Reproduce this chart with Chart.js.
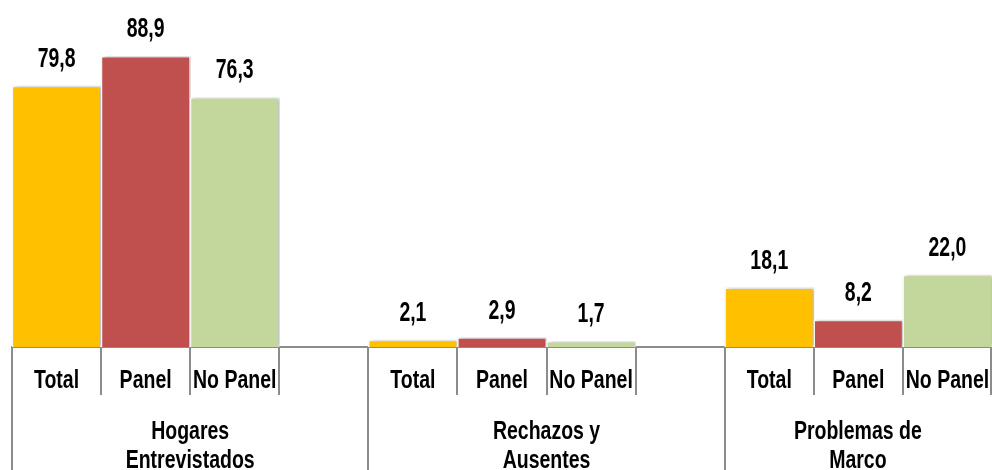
<!DOCTYPE html>
<html>
<head>
<meta charset="utf-8">
<script src="https://cdn.jsdelivr.net/npm/chart.js@4.4.1/dist/chart.umd.min.js"></script>
<style>
  html, body { margin: 0; padding: 0; background: #fff; }
  #wrap { width: 992px; height: 470px; position: relative; }
</style>
</head>
<body>
<div id="wrap"><canvas id="encuestaChart"></canvas></div>
<script>
// series inside each group
const series = ['Total', 'Panel', 'No Panel'];
const seriesColors = ['#FFC000', '#C0504D', '#C3D69B'];

// group labels (two lines each)
const groups = [
  ['Hogares', 'Entrevistados'],
  ['Rechazos y', 'Ausentes'],
  ['Problemas de', 'Marco']
];

// percentages per group, in series order
const hogares = [79.8, 88.9, 76.3];
const rechazos = [2.1, 2.9, 1.7];
const marco = [18.1, 8.2, 22.0];

const FONT = '"Liberation Sans", Arial, sans-serif';
const AXIS_GRAY = '#8c8c8c';

// flatten groups into one category axis, with an empty slot between groups
const groupValues = [hogares, rechazos, marco];
const labels = [];
const values = [];
const colors = [];
const groupStarts = [];
groupValues.forEach((vals, g) => {
  if (g > 0) { labels.push(''); values.push(null); colors.push('transparent'); }
  groupStarts.push(labels.length);
  vals.forEach((v, i) => {
    labels.push(series[i]);
    values.push(v);
    colors.push(seriesColors[i]);
  });
});

const fmt = v => v.toFixed(1).replace('.', ',');

// bold condensed text: regular face squeezed horizontally
function narrowText(ctx, text, x, y, size, sx) {
  ctx.save();
  ctx.translate(x, y);
  ctx.scale(sx, 1);
  ctx.font = 'bold ' + size + 'px ' + FONT;
  ctx.fillStyle = '#000';
  ctx.textAlign = 'center';
  ctx.textBaseline = 'alphabetic';
  ctx.fillText(text, 0, 0);
  ctx.restore();
}

// soft shadow under the bars, then value labels on top
const barLabels = {
  id: 'barLabels',
  beforeDatasetsDraw(chart) {
    const ctx = chart.ctx;
    ctx.save();
    ctx.shadowColor = 'rgba(0,0,0,0.3)';
    ctx.shadowBlur = 4;
    ctx.shadowOffsetX = 2;
    ctx.shadowOffsetY = 0;
  },
  afterDatasetsDraw(chart) {
    const ctx = chart.ctx;
    ctx.restore();
    chart.getDatasetMeta(0).data.forEach((bar, i) => {
      const v = values[i];
      if (v == null) return;
      narrowText(ctx, fmt(v), bar.x, bar.y - 19, 27, 0.72);
    });
  }
};

// tick separators, category labels and two-line group labels under the axis
const groupAxis = {
  id: 'groupAxis',
  afterDraw(chart) {
    const x = chart.scales.x;
    const ctx = chart.ctx;
    const base = chart.chartArea.bottom;
    const n = labels.length;
    const step = x.getPixelForValue(1) - x.getPixelForValue(0);
    const edge = i => Math.min(x.getPixelForValue(0) - step / 2 + i * step, chart.width - 1);
    ctx.save();
    ctx.strokeStyle = AXIS_GRAY;
    ctx.lineWidth = 2;
    for (let i = 0; i <= n; i++) {
      const leftLabelled = i > 0 && labels[i - 1] !== '';
      const rightLabelled = i < n && labels[i] !== '';
      if (!leftLabelled && !rightLabelled) continue;
      const long = groupStarts.includes(i);
      const px = Math.round(edge(i));
      ctx.beginPath();
      ctx.moveTo(px, base);
      ctx.lineTo(px, long ? chart.height : base + 48);
      ctx.stroke();
    }
    ctx.restore();
    labels.forEach((t, i) => {
      if (t) narrowText(ctx, t, x.getPixelForValue(i), base + 41, 25, 0.78);
    });
    groups.forEach((lines, g) => {
      const start = edge(groupStarts[g]);
      const end = g + 1 < groups.length ? edge(groupStarts[g + 1]) : edge(n);
      const cx = (start + end) / 2;
      lines.forEach((t, k) => narrowText(ctx, t, cx, base + 92 + k * 29, 25, 0.78));
    });
  }
};

new Chart(document.querySelector('#encuestaChart'), {
  type: 'bar',
  data: {
    labels: labels,
    datasets: [{
      data: values,
      backgroundColor: colors,
      borderColor: '#ffffff',
      borderWidth: 1.5,
      barPercentage: 1,
      categoryPercentage: 1
    }]
  },
  options: {
    responsive: true,
    maintainAspectRatio: false,
    animation: false,
    layout: { padding: { top: 20, left: 12, right: 0, bottom: 0 } },
    plugins: {
      legend: { display: false },
      tooltip: { enabled: false }
    },
    scales: {
      x: {
        offset: true,
        grid: { display: false, drawTicks: false },
        border: { color: AXIS_GRAY, width: 2 },
        ticks: { display: false },
        afterFit(scale) { scale.height = 123; }
      },
      y: { display: false, min: 0, max: 100 }
    }
  },
  plugins: [barLabels, groupAxis]
});
</script>
</body>
</html>
